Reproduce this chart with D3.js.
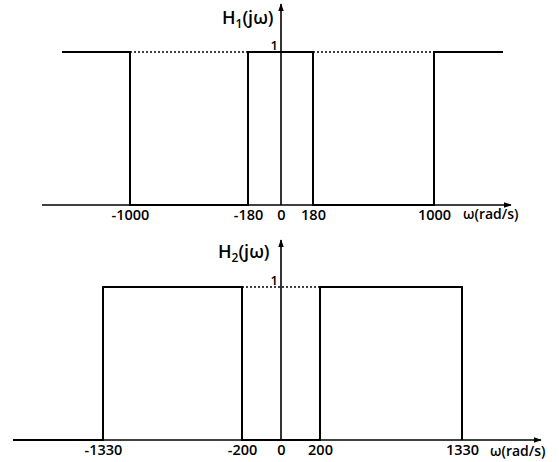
<!DOCTYPE html>
<html>
<head>
<meta charset="utf-8">
<script src="https://cdn.jsdelivr.net/npm/d3@7"></script>
<style>
  html, body { margin: 0; padding: 0; background: #fff; }
  svg { display: block; font-family: "Open Sans", sans-serif; }
</style>
</head>
<body>
<svg id="chart" width="559" height="462"></svg>
<script>
// ---------- data ----------
// H1(jω): band-stop shape (1 for |ω|<180 and |ω|>1000)
const h1Omega  = [-1500, -1000, -1000, -180, -180, 180, 180, 1000, 1000, 1500];
const h1Values = [1, 1, 0, 0, 1, 1, 0, 0, 1, 1];
const h1Ticks  = [-1000, -180, 0, 180, 1000];
const h1Dotted = [[-1000, -180], [180, 1000]];

// H2(jω): band-pass shape (1 for 200<|ω|<1330)
const h2Omega  = [-1700, -1330, -1330, -200, -200, 200, 200, 1330, 1330];
const h2Values = [0, 0, 1, 1, 0, 0, 1, 1, 0];
const h2Ticks  = [-1330, -200, 0, 200, 1330];
const h2Dotted = [[-200, 200]];

const yLabels = ["H", "H"];
const ySubs = ["1", "2"];
const xLabel = "ω(rad/s)";

// ---------- layout ----------
const svg = d3.select("#chart");
const defs = svg.append("defs");
defs.append("marker")
  .attr("id", "arrow").attr("viewBox", "0 0 10 10")
  .attr("refX", 9).attr("refY", 5)
  .attr("markerWidth", 8).attr("markerHeight", 8)
  .attr("markerUnits", "userSpaceOnUse")
  .attr("orient", "auto")
  .append("path").attr("d", "M0,1.5 L10,5 L0,8.5 Z").attr("fill", "#000");

const panels = [
  {
    omega: h1Omega, values: h1Values, ticks: h1Ticks, dotted: h1Dotted,
    xDomain: [-1500, -1000, -180, 0, 180, 1000, 1500],
    xRange:  [62, 130, 248, 281, 313, 434, 503],
    y0: 205, y1: 52, axisLeft: 42, axisRight: 511, yTop: 4,
    label: { x: 222, y: 24 }, xLab: { x: 463, y: 219 }
  },
  {
    omega: h2Omega, values: h2Values, ticks: h2Ticks, dotted: h2Dotted,
    xDomain: [-1700, -1330, -200, 0, 200, 1330],
    xRange:  [13, 103, 242, 281, 320, 462],
    y0: 440, y1: 287, axisLeft: 13, axisRight: 541, yTop: 240,
    label: { x: 218, y: 258 }, xLab: { x: 490, y: 456 }
  }
];

panels.forEach((p, i) => {
  const x = d3.scaleLinear().domain(p.xDomain).range(p.xRange);
  const y = d3.scaleLinear().domain([0, 1]).range([p.y0, p.y1]);
  const g = svg.append("g");

  // dotted guide lines at level 1
  p.dotted.forEach(([a, b]) => {
    g.append("line")
      .attr("x1", x(a)).attr("x2", x(b))
      .attr("y1", y(1)).attr("y2", y(1))
      .attr("stroke", "#000").attr("stroke-width", 1.4)
      .attr("stroke-dasharray", "2,2");
  });

  // horizontal axis with arrow
  g.append("line")
    .attr("x1", p.axisLeft).attr("x2", p.axisRight)
    .attr("y1", y(0)).attr("y2", y(0))
    .attr("stroke", "#000").attr("stroke-width", 1.6)
    .attr("marker-end", "url(#arrow)");

  // vertical axis with arrow
  g.append("line")
    .attr("x1", x(0)).attr("x2", x(0))
    .attr("y1", y(0)).attr("y2", p.yTop)
    .attr("stroke", "#000").attr("stroke-width", 1.6)
    .attr("marker-end", "url(#arrow)");

  // step function
  const pts = p.omega.map((w, k) => [w, p.values[k]]);
  g.append("path")
    .datum(pts)
    .attr("d", d3.line().x(d => x(d[0])).y(d => y(d[1])))
    .attr("fill", "none").attr("stroke", "#000")
    .attr("stroke-width", 2).attr("stroke-linejoin", "miter");

  // tick labels via d3 axis
  const ax = d3.axisBottom(x).tickValues(p.ticks).tickSize(0).tickPadding(5)
    .tickFormat(d => d < 0 ? "-" + Math.abs(d) : String(d));
  const axG = g.append("g").attr("transform", `translate(0,${y(0)})`).call(ax);
  axG.select(".domain").remove();
  axG.selectAll("text")
    .attr("font-family", "Open Sans, sans-serif")
    .attr("font-size", 14.5).attr("font-weight", 600).attr("fill", "#000");

  // "1" level label
  g.append("text")
    .attr("x", x(0) - 3).attr("y", y(1) - 2)
    .attr("text-anchor", "end")
    .attr("font-size", 13).attr("font-weight", 600)
    .text("1");

  // H_i(jω) label
  const t = g.append("text")
    .attr("x", p.label.x).attr("y", p.label.y)
    .attr("font-size", 18).attr("font-weight", 600);
  t.append("tspan").text(yLabels[i]);
  t.append("tspan").attr("font-size", 12).attr("dy", 4).text(ySubs[i]);
  t.append("tspan").attr("dy", -4).text("(jω)");

  // x axis unit label
  g.append("text")
    .attr("x", p.xLab.x).attr("y", p.xLab.y)
    .attr("font-size", 14).attr("font-weight", 600)
    .text(xLabel);
});
</script>
</body>
</html>
